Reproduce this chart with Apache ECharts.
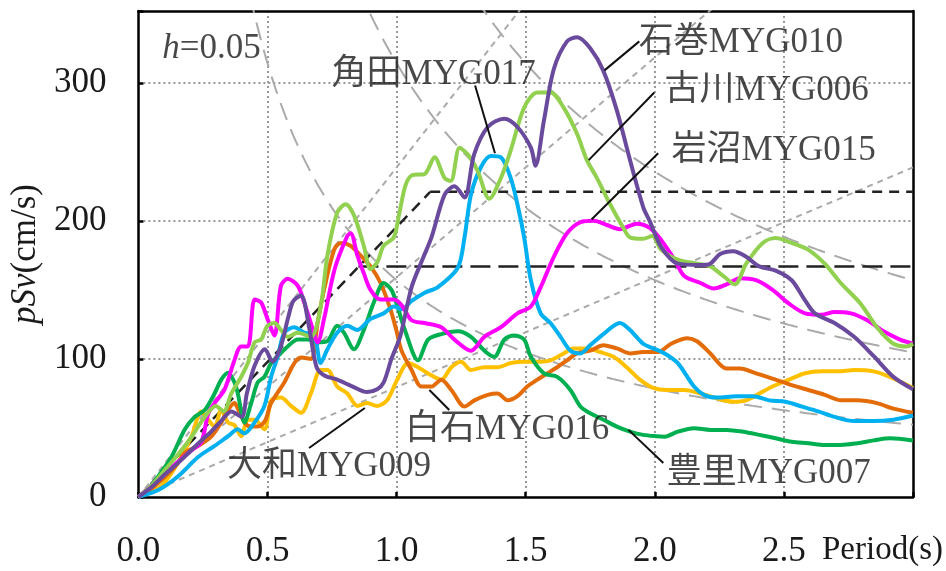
<!DOCTYPE html>
<html><head><meta charset="utf-8">
<script src="https://cdn.jsdelivr.net/npm/echarts@6/dist/echarts.min.js"></script>
<style>html,body{margin:0;padding:0;background:#fff}#c{width:946px;height:571px}</style>
</head><body><div id="c"></div>
<script>
// ---- axis ticks ----
const xTickValues = [0, 0.5, 1.0, 1.5, 2.0, 2.5, 3.0];
const yTickValues = [0, 100, 200, 300];

// ---- series values: [Period (s), pSv (cm/s)] ----
const MYG010 = [[0,0],[0.05,7],[0.1,16],[0.15,24],[0.2,33],[0.25,42],[0.28,47],[0.32,55],[0.36,62],[0.4,58],[0.42,75],[0.45,95],[0.49,107],[0.52,98],[0.55,108],[0.58,130],[0.6,142],[0.63,146],[0.66,124],[0.69,94],[0.72,88],[0.77,85],[0.83,80],[0.886,76],[0.925,78],[0.95,83],[0.98,100],[1.015,117],[1.058,152],[1.1,172],[1.135,188],[1.186,219],[1.224,225],[1.263,217],[1.3,248],[1.353,268],[1.417,274],[1.468,268],[1.52,253],[1.538,240],[1.57,272],[1.609,310],[1.66,330],[1.70,333],[1.75,325],[1.80,309],[1.853,280],[1.904,244],[1.955,210],[1.98,200],[2.025,181],[2.089,169],[2.177,168],[2.215,169],[2.253,176],[2.304,178],[2.354,174],[2.405,167],[2.468,164],[2.53,157],[2.58,143],[2.62,133],[2.696,126],[2.772,116],[2.848,102],[2.924,87],[3.0,78]];
const MYG006 = [[0,0],[0.05,8],[0.1,19],[0.15,30],[0.2,42],[0.257,58],[0.3,66],[0.33,62],[0.36,75],[0.385,83],[0.398,87],[0.424,97],[0.45,112],[0.475,114],[0.5,124],[0.527,126],[0.552,121],[0.578,116],[0.617,119],[0.668,116],[0.706,138],[0.732,175],[0.77,206],[0.803,212],[0.835,204],[0.873,182],[0.899,165],[0.925,170],[0.95,182],[0.989,188],[1.01,205],[1.035,226],[1.06,233],[1.109,234],[1.147,246],[1.186,231],[1.21,229],[1.244,253],[1.276,248],[1.314,236],[1.359,216],[1.404,231],[1.442,251],[1.494,282],[1.545,293],[1.596,293],[1.647,282],[1.699,263],[1.737,244],[1.776,231],[1.827,212],[1.878,195],[1.904,188],[1.955,187],[1.99,189],[2.025,179],[2.089,172],[2.165,169],[2.215,167],[2.266,160],[2.31,154],[2.354,169],[2.418,184],[2.468,187.5],[2.53,184],[2.595,179],[2.658,169],[2.72,155],[2.797,140],[2.86,123],[2.924,111],[2.975,109],[3.0,111]];
const MYG015 = [[0,0],[0.05,8],[0.1,17],[0.15,25],[0.2,33],[0.244,40],[0.27,60],[0.295,68],[0.334,78],[0.37,98],[0.398,109],[0.424,109],[0.45,143],[0.475,141],[0.5,129],[0.527,117],[0.552,153],[0.578,158],[0.617,153],[0.642,141],[0.668,126],[0.694,112],[0.72,130],[0.76,165],[0.809,189],[0.822,191],[0.848,175],[0.873,162],[0.899,150],[0.938,143],[0.989,143],[1.019,139],[1.058,128],[1.109,126],[1.173,123],[1.224,114],[1.288,106],[1.34,116],[1.404,123],[1.468,133],[1.52,138],[1.558,152],[1.609,174],[1.66,191],[1.712,199],[1.763,200],[1.814,197],[1.865,194],[1.93,198],[1.98,195],[2.025,186],[2.076,172],[2.114,160],[2.177,155],[2.228,151],[2.278,154],[2.33,158.5],[2.392,157],[2.456,150],[2.52,140],[2.582,133],[2.646,132],[2.696,134],[2.76,133],[2.823,128],[2.886,120],[2.95,114],[3.0,111]];
const MYG017 = [[0,0],[0.077,5],[0.154,15],[0.231,29],[0.295,37],[0.347,44],[0.385,49],[0.41,46],[0.45,54],[0.488,66],[0.514,87],[0.54,102],[0.565,119],[0.604,123],[0.642,119],[0.681,117],[0.706,97],[0.732,107],[0.77,119],[0.809,124],[0.848,121],[0.899,129],[0.95,133],[0.99,138],[1.02,136],[1.058,142],[1.109,148],[1.16,152],[1.237,166],[1.263,188],[1.288,219],[1.327,239],[1.365,247],[1.404,246],[1.442,231],[1.468,212],[1.494,188],[1.52,157],[1.558,133],[1.596,126],[1.635,116],[1.673,106],[1.712,104],[1.75,110],[1.801,118],[1.865,126],[1.904,121],[1.955,111],[1.99,108],[2.038,104],[2.089,97],[2.152,80],[2.19,74],[2.24,72],[2.316,73],[2.38,73],[2.443,70],[2.506,69],[2.57,65.5],[2.633,62],[2.696,58],[2.772,55],[2.848,55],[2.924,56],[3.0,59]];
const MYG016 = [[0,0],[0.05,6],[0.1,14],[0.15,24],[0.18,32],[0.231,37],[0.283,44],[0.321,54],[0.347,63],[0.372,68],[0.385,64],[0.411,54],[0.437,51],[0.462,51],[0.49,55],[0.514,68],[0.565,83],[0.604,97],[0.63,101],[0.668,100],[0.694,126],[0.719,150],[0.758,179],[0.784,184],[0.822,182],[0.86,175],[0.899,167],[0.938,155],[0.976,136],[1.0,120],[1.019,106],[1.058,92],[1.096,80],[1.135,80],[1.173,85],[1.212,77.5],[1.263,65.5],[1.301,70],[1.353,74],[1.391,75],[1.43,70],[1.468,73],[1.506,80],[1.545,85],[1.583,89.5],[1.622,94],[1.66,99],[1.699,104],[1.75,106],[1.801,110],[1.853,107.6],[1.904,104],[1.955,105],[2.013,105],[2.063,111],[2.127,115],[2.165,112.6],[2.215,104],[2.278,93],[2.33,93],[2.392,89.6],[2.468,85],[2.53,81],[2.595,77.5],[2.658,74],[2.72,70],[2.785,70],[2.86,68],[2.924,64],[3.0,61]];
const MYG009 = [[0,0],[0.05,4],[0.09,8],[0.154,25],[0.206,44],[0.244,62],[0.27,56],[0.295,51],[0.321,63],[0.347,54],[0.372,52],[0.398,44],[0.424,56],[0.45,56],[0.488,49],[0.514,70],[0.552,72],[0.591,66],[0.63,61],[0.668,75],[0.706,92],[0.732,92],[0.77,80],[0.809,75],[0.848,66],[0.886,68],[0.925,66],[0.963,70],[1.0,84],[1.045,97],[1.083,94],[1.122,89.5],[1.173,85],[1.212,94],[1.25,98],[1.288,92],[1.34,94],[1.391,94],[1.442,97],[1.494,98],[1.545,98],[1.596,99],[1.647,104],[1.686,107.6],[1.737,107.6],[1.788,105],[1.84,101.5],[1.891,94],[1.942,85],[1.994,79],[2.05,77.5],[2.114,77.5],[2.177,75],[2.24,71.5],[2.304,69],[2.354,70],[2.405,75],[2.456,80],[2.52,85],[2.582,89.6],[2.646,91],[2.71,91],[2.772,92],[2.848,91],[2.91,87],[3.0,79]];
const MYG007 = [[0,0],[0.04,6],[0.077,15],[0.128,29],[0.18,49],[0.218,58],[0.257,63],[0.295,75],[0.321,85],[0.347,90],[0.372,83],[0.385,75],[0.411,54],[0.437,68],[0.462,83],[0.488,87],[0.514,97],[0.54,102],[0.578,109],[0.617,114],[0.655,114],[0.694,112],[0.732,113],[0.77,124],[0.796,119],[0.835,107],[0.873,121],[0.912,141],[0.95,155],[0.98,150],[1.0,140],[1.032,121],[1.083,99],[1.122,114],[1.173,118],[1.237,120],[1.288,116],[1.34,106],[1.378,101.5],[1.417,114],[1.455,117],[1.494,114],[1.52,101.5],[1.571,89.5],[1.622,87],[1.673,77.5],[1.712,65.5],[1.75,60.6],[1.801,56],[1.853,51],[1.904,47.4],[1.955,45],[2.006,44],[2.038,43.7],[2.089,47.3],[2.152,49.8],[2.215,48.6],[2.278,48.6],[2.342,47.3],[2.405,45],[2.468,42.5],[2.53,40],[2.595,39],[2.658,37.7],[2.72,37.7],[2.785,39],[2.848,41],[2.911,42.5],[3.0,41]];

// ---- station names ----
const stationNames = ['大和MYG009','白石MYG016','豊里MYG007','角田MYG017','岩沼MYG015','古川MYG006','石巻MYG010'];
const stationColors = ['#ffc000','#e36c09','#00b050','#00b0f0','#ff00ff','#92d050','#6a4a9c'];
const stationData = [MYG009, MYG016, MYG007, MYG017, MYG015, MYG006, MYG010];

// ---- label anchors (data coords) and leader lines ----
const labelAnchors = [[0.341,21.7],[1.031,48.6],[2.044,16.7],[0.746,306],[2.063,251],[2.036,294],[1.936,329]];
const leaderLines = [
  [[0.661,35.5],[0.877,64.5]],
  [[1.127,77.5],[1.204,63]],
  [[1.898,48.6],[2.033,24.6]],
  [[1.304,298],[1.381,249]],
  [[1.755,201],[2.013,249]],
  [[1.744,244],[1.998,293]],
  [[1.805,309],[1.94,330]]
];
const dampingText = '{i|h}=0.05';
const dampingAnchor = [0.09, 324.6];

// ---- tripartite guide levels ----
const accelLevels = [500, 1000, 1500];   // cm/s^2
const dispLevels = [25, 50, 75];         // cm
// design spectra (black dashed)
const designDiagonal = [[0,0],[1.13,221]];
const designUpper = [[1.13,221],[3.0,221]];
const designLower = [[0.852,167],[3.0,167]];

const FONT = "'Liberation Serif', 'Times New Roman', 'Noto Sans CJK JP', serif";
const FS = 35;
const TXT = '#1a1a1a';
const Y_MAX = 352;

const series = [];
accelLevels.forEach(a => {
  series.push({type:'line', data:[[0,0],[3, a*3/(2*Math.PI)]], symbol:'none', silent:true, z:1,
    lineStyle:{color:'#aaaaaa', width:2, type:[6,5]}});
});
dispLevels.forEach(d => {
  const pts = [];
  for (let t = 0.30; t <= 3.0001; t += 0.01) pts.push([+t.toFixed(2), 2*Math.PI*d/t]);
  series.push({type:'line', data:pts, symbol:'none', silent:true, z:1,
    lineStyle:{color:'#aaaaaa', width:2, type:[18,10]}});
});
series.push({type:'line', data:designDiagonal, symbol:'none', silent:true, z:2, lineStyle:{color:'#222', width:2.5, type:[11,7]}});
series.push({type:'line', data:designUpper, symbol:'none', silent:true, z:2, lineStyle:{color:'#222', width:2.5, type:[10,7]}});
series.push({type:'line', data:designLower, symbol:'none', silent:true, z:2, lineStyle:{color:'#222', width:2.5, type:[20,8]}});

stationData.forEach((d, i) => {
  series.push({type:'line', name:stationNames[i], data:d, symbol:'none', smooth:0.3, z:3+i,
    lineStyle:{color:stationColors[i], width:4}});
});
leaderLines.forEach(l => {
  series.push({type:'line', data:l, symbol:'none', silent:true, z:12, clip:false, lineStyle:{color:'#111', width:2}});
});
const richI = {i:{fontStyle:'italic', fontSize:FS, fontFamily:FONT, color:TXT}};
series.push({type:'scatter', symbolSize:1, itemStyle:{color:'rgba(0,0,0,0)'}, silent:true, z:13, clip:false,
  data: stationNames.map((n,i)=>({value:labelAnchors[i], label:{formatter:n}})).concat([{value:dampingAnchor, label:{formatter:dampingText}}]),
  label:{show:true, position:'right', distance:0, fontSize:FS, fontFamily:FONT, color:TXT, rich:richI}
});

const frameAxis = {axisLine:{show:true, onZero:false, lineStyle:{color:'#000', width:2.5}}, axisTick:{show:false}, axisLabel:{show:false}, splitLine:{show:false}};

const chart = echarts.init(document.getElementById('c'), null, {renderer:'canvas'});
chart.setOption({
  animation:false,
  backgroundColor:'#fff',
  grid:{left:134.5, right:33, top:11, bottom:74},
  xAxis:[{type:'value', min:xTickValues[0], max:xTickValues[xTickValues.length-1], interval:0.5,
    name:'Period(s)', nameLocation:'end', nameGap:-91,
    nameTextStyle:{fontSize:FS-2, fontFamily:FONT, color:TXT, align:'left', verticalAlign:'top', padding:[37,0,0,0]},
    axisLine:{show:true, onZero:false, lineStyle:{color:'#000', width:2.5}},
    axisTick:{show:true, inside:true, length:5, lineStyle:{color:'#000', width:2.5}},
    axisLabel:{margin:37, fontSize:FS, fontFamily:FONT, color:TXT,
      formatter:v => (v >= 3 ? '' : v.toFixed(1))},
    splitLine:{show:true, showMinLine:false, showMaxLine:false, lineStyle:{color:'#999', width:2, type:[2,3]}}
  }, Object.assign({type:'value', position:'top', min:xTickValues[0], max:xTickValues[xTickValues.length-1]}, frameAxis)],
  yAxis:[{type:'value', min:yTickValues[0], max:Y_MAX, interval:100,
    name:'{i|pSv}(cm/s)', nameLocation:'middle', nameGap:86,
    nameTextStyle:{fontSize:FS, fontFamily:FONT, color:TXT, rich:richI},
    axisLine:{show:true, onZero:false, lineStyle:{color:'#000', width:2.5}},
    axisTick:{show:true, inside:true, length:5, lineStyle:{color:'#000', width:2.5}},
    axisLabel:{margin:32, fontSize:FS, fontFamily:FONT, color:TXT,
      formatter:v => (yTickValues.indexOf(v) >= 0 ? String(v) : '')},
    splitLine:{show:true, showMinLine:false, showMaxLine:false, lineStyle:{color:'#999', width:2, type:[2,3]}}
  }, Object.assign({type:'value', position:'right', min:yTickValues[0], max:Y_MAX}, frameAxis)],
  series: series
});
</script></body></html>
